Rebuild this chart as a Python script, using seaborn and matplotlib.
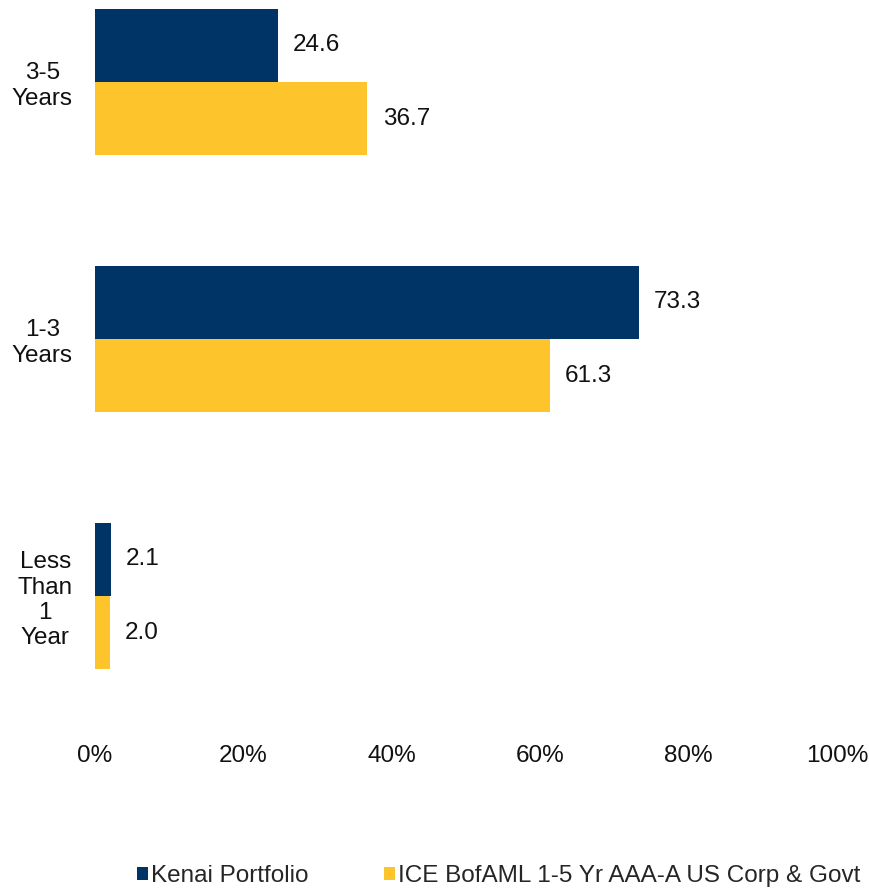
import matplotlib
matplotlib.use("Agg")
import matplotlib.pyplot as plt
import seaborn as sns
import pandas as pd
from matplotlib.patches import Patch

categories = ["3-5\nYears", "1-3\nYears", "Less\nThan\n1\nYear"]
series_names = ["Kenai Portfolio", "ICE BofAML 1-5 Yr AAA-A US Corp & Govt"]
kenai = [24.6, 73.3, 2.1]
ice = [36.7, 61.3, 2.0]
xticks = [0, 20, 40, 60, 80, 100]
xtick_labels = ["0%", "20%", "40%", "60%", "80%", "100%"]
colors = ["#003366", "#FDC52B"]

df = pd.DataFrame({
    "cat": categories * 2,
    "series": [series_names[0]] * 3 + [series_names[1]] * 3,
    "value": kenai + ice,
})

sns.set_theme(style="white")
plt.rcParams["font.family"] = ["Liberation Sans", "DejaVu Sans"]

FS = 17.5
W, H = 869, 890
fig = plt.figure(figsize=(W / 100, H / 100), dpi=100)
ax = fig.add_axes([95 / W, (H - 724) / H, 742 / W, 724 / H])

sns.barplot(data=df, y="cat", x="value", hue="series", orient="h",
            palette=colors, width=0.57, gap=0, ax=ax, legend=False,
            order=categories, hue_order=series_names, saturation=1,
            edgecolor="none", linewidth=0)

ax.set_xlim(0, 100)
ax.set_ylim(2.498, -0.319)
ax.set_xticks(xticks)
ax.set_xticklabels(xtick_labels, fontsize=FS, color="#111111")
ax.set_yticks(range(len(categories)))
ax.set_yticklabels(categories, fontsize=FS, color="#111111",
                   multialignment="center", linespacing=1.2)
ax.tick_params(axis="x", length=0, pad=15)
ax.tick_params(axis="y", length=0, pad=16)
ax.set_xlabel("")
ax.set_ylabel("")
for s in ax.spines.values():
    s.set_visible(False)

for cont in ax.containers:
    ax.bar_label(cont, fmt="%.1f", padding=11, fontsize=FS, color="#111111")

handles = [Patch(facecolor=c, edgecolor="none") for c in colors]
fig.legend(handles, series_names, loc="center", bbox_to_anchor=(0.574, 0.0157),
           ncol=2, frameon=False, fontsize=FS, handlelength=0.45, handleheight=0.45,
           handletextpad=0.12, columnspacing=3.1, borderaxespad=0)

fig.savefig("out.png", dpi=100)
